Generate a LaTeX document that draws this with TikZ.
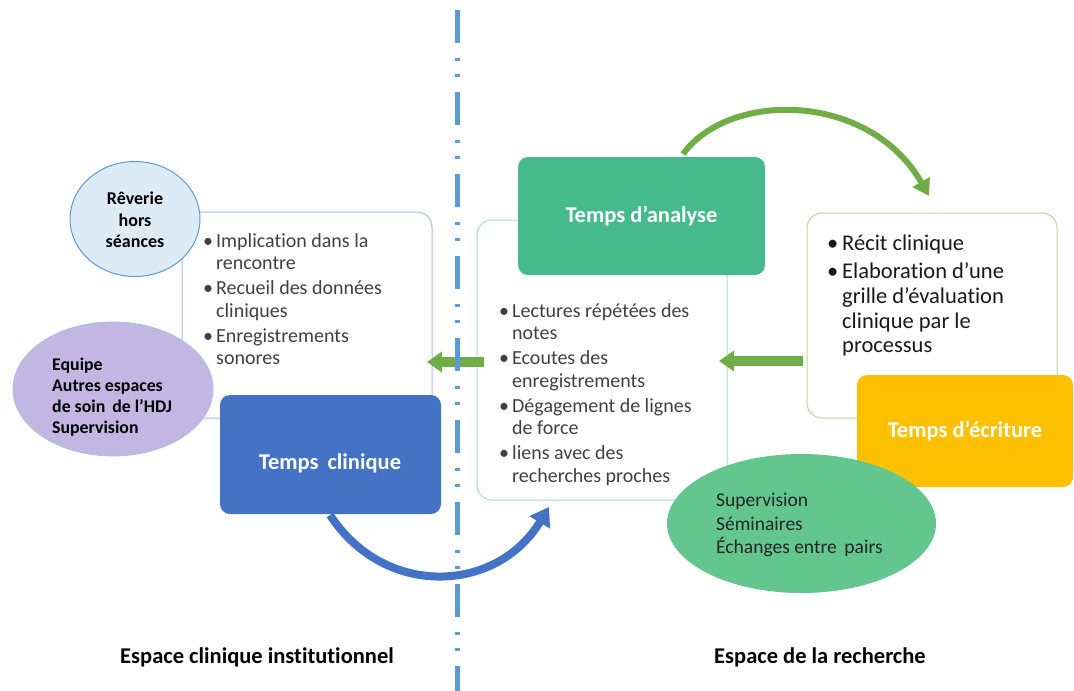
\documentclass[tikz,border=0pt]{standalone}
\usepackage{fontspec}
\setmainfont{Carlito}[Ligatures=NoCommon]
\usetikzlibrary{arrows.meta,shapes.geometric}
\definecolor{cBlue}{HTML}{4472C4}
\definecolor{cTeal}{HTML}{44BA8D}
\definecolor{cYellow}{HTML}{FFC000}
\definecolor{cGreenA}{HTML}{70AD47}
\definecolor{cGreenE}{HTML}{63C68F}
\definecolor{cPurple}{HTML}{C1B7E2}
\definecolor{cPaleBlue}{HTML}{DDEBF7}
\definecolor{cDash}{HTML}{5B9BD5}
\definecolor{cLBorder}{HTML}{A4BFE8}
\definecolor{cMBorder}{HTML}{A3DEC6}
\definecolor{cRBorder}{HTML}{B4DA9C}
\definecolor{cText}{HTML}{404040}
\newcommand\bul{\makebox[13pt][l]{\textbullet}}
\newcommand\ind{\hspace*{13pt}}
\begin{document}
\begin{tikzpicture}[x=1pt,y=-1pt,
  outline/.style={draw, line width=1pt, rounded corners=15pt, inner sep=0pt},
  titlebox/.style={rounded corners=10pt, inner sep=0pt, text=white,
    font=\fontsize{22.5}{26}\selectfont\bfseries},
  blob/.style={ellipse, inner sep=0pt},
  bullets/.style={inner sep=0pt, anchor=base west, text=cText},
  blockarrow/.style={draw=cGreenA, line width=10pt,
    -{Triangle[width=20pt,length=15pt]}},
  dashline/.style={draw=cDash, line width=5pt,
    dash pattern=on 33pt off 15pt on 3pt off 13pt on 3pt off 15pt},
  caption/.style={inner sep=0pt, font=\fontsize{22.5}{26}\selectfont\bfseries}
]
\useasboundingbox (0,0) rectangle (1074,691);

% ---------- left: clinical space ----------
\node[outline, draw=cLBorder, minimum width=250pt, minimum height=206pt] (lbox) at (307,315) {};
\node[bullets] (llist) at (203,247) {\fontsize{20}{22.5}\selectfont
  \begin{tabular}[t]{@{}l@{}}
  \bul Implication dans la\\
  \ind rencontre\\[2.5pt]
  \bul Recueil des données\\
  \ind cliniques\\[2.5pt]
  \bul Enregistrements\\
  \ind sonores
  \end{tabular}};
\node[blob, fill=cPaleBlue, draw=cDash, line width=1pt, minimum width=130pt, minimum height=115pt] (rev) at (135,219) {};
\node[align=center, inner sep=0pt, font=\fontsize{18}{21.5}\selectfont\bfseries] (revtext) at (135,220) {Rêverie\\hors\\séances};
\node[blob, fill=cPurple, draw=cLBorder, line width=0.8pt, minimum width=200pt, minimum height=134pt] (equ) at (113,389) {};
\node[align=left, anchor=west, inner sep=0pt, font=\fontsize{17.8}{21}\selectfont\bfseries] (equtext) at (52,397) {Equipe\\Autres espaces\\de soin\, de l’HDJ\\Supervision};
\node[titlebox, fill=cBlue, minimum width=221pt, minimum height=119pt] (clin) at (330.5,454.5) {};
\node[inner sep=0pt, text=white, font=\fontsize{22.5}{26}\selectfont\bfseries] (clintext) at (330,463) {Temps\,\ clinique};

% ---------- middle: analysis ----------
\node[outline, draw=cMBorder, minimum width=250pt, minimum height=280pt] (mbox) at (602,360) {};
\node[titlebox, fill=cTeal, minimum width=247pt, minimum height=118pt] (anal) at (641.5,216) {Temps d’analyse};
\node[bullets] (mlist) at (499,317) {\fontsize{20}{22.5}\selectfont
  \begin{tabular}[t]{@{}l@{}}
  \bul Lectures répétées des\\
  \ind notes\\[2.5pt]
  \bul Ecoutes des\\
  \ind enregistrements\\[2.5pt]
  \bul Dégagement de lignes\\
  \ind de force\\[2.5pt]
  \bul liens avec des\\
  \ind recherches proches
  \end{tabular}};

% ---------- right: writing ----------
\node[outline, draw=cRBorder, minimum width=250pt, minimum height=205pt] (rbox) at (932,315.5) {};
\node[bullets, text=black!90] (rlist) at (827,250) {\fontsize{22.5}{24.7}\selectfont
  \begin{tabular}[t]{@{}l@{}}
  \makebox[15pt][l]{\textbullet}Récit clinique\\[4pt]
  \makebox[15pt][l]{\textbullet}Elaboration d’une\\
  \hspace*{15pt}grille d’évaluation\\
  \hspace*{15pt}clinique par le\\
  \hspace*{15pt}processus
  \end{tabular}};
\node[titlebox, fill=cYellow, minimum width=216pt, minimum height=112pt] (ecri) at (965,431) {Temps d’écriture};
\node[blob, fill=cGreenE, minimum width=269pt, minimum height=139pt] (sup) at (801.5,523.5) {};
\node[align=left, anchor=west, inner sep=0pt, text=black!85, font=\fontsize{19.5}{23.5}\selectfont] (suptext) at (716,525) {Supervision\\Séminaires\\Échanges entre\, pairs};

% ---------- arrows ----------
\coordinate (a1s) at (484,362);
\coordinate (a1e) at (427,362);
\coordinate (a2s) at (803,361);
\coordinate (a2e) at (719,361);
\draw[blockarrow] (a1s) -- (a1e);
\draw[blockarrow] (a2s) -- (a2e);

\coordinate (g1) at (683,154);
\coordinate (g2) at (929,196);
\draw[draw=cGreenA, line width=6pt, -{Triangle[width=19pt,length=16pt]}]
  (g1) .. controls (730,90) and (870,92) .. (g2);

\coordinate (b1) at (330,515);
\coordinate (b2) at (549,507);
\draw[draw=cBlue, line width=8pt, -{Triangle[width=23pt,length=18pt]}]
  (b1) .. controls (385,599) and (497,593) .. (b2);

% ---------- divider ----------
\coordinate (dtop) at (457,10);
\coordinate (dbot) at (457,691);
\draw[dashline] (dtop) -- (dbot);

% ---------- captions ----------
\node[caption] (capl) at (257,657) {Espace clinique institutionnel};
\node[caption] (capr) at (820,657) {Espace de la recherche};
\end{tikzpicture}
\end{document}
